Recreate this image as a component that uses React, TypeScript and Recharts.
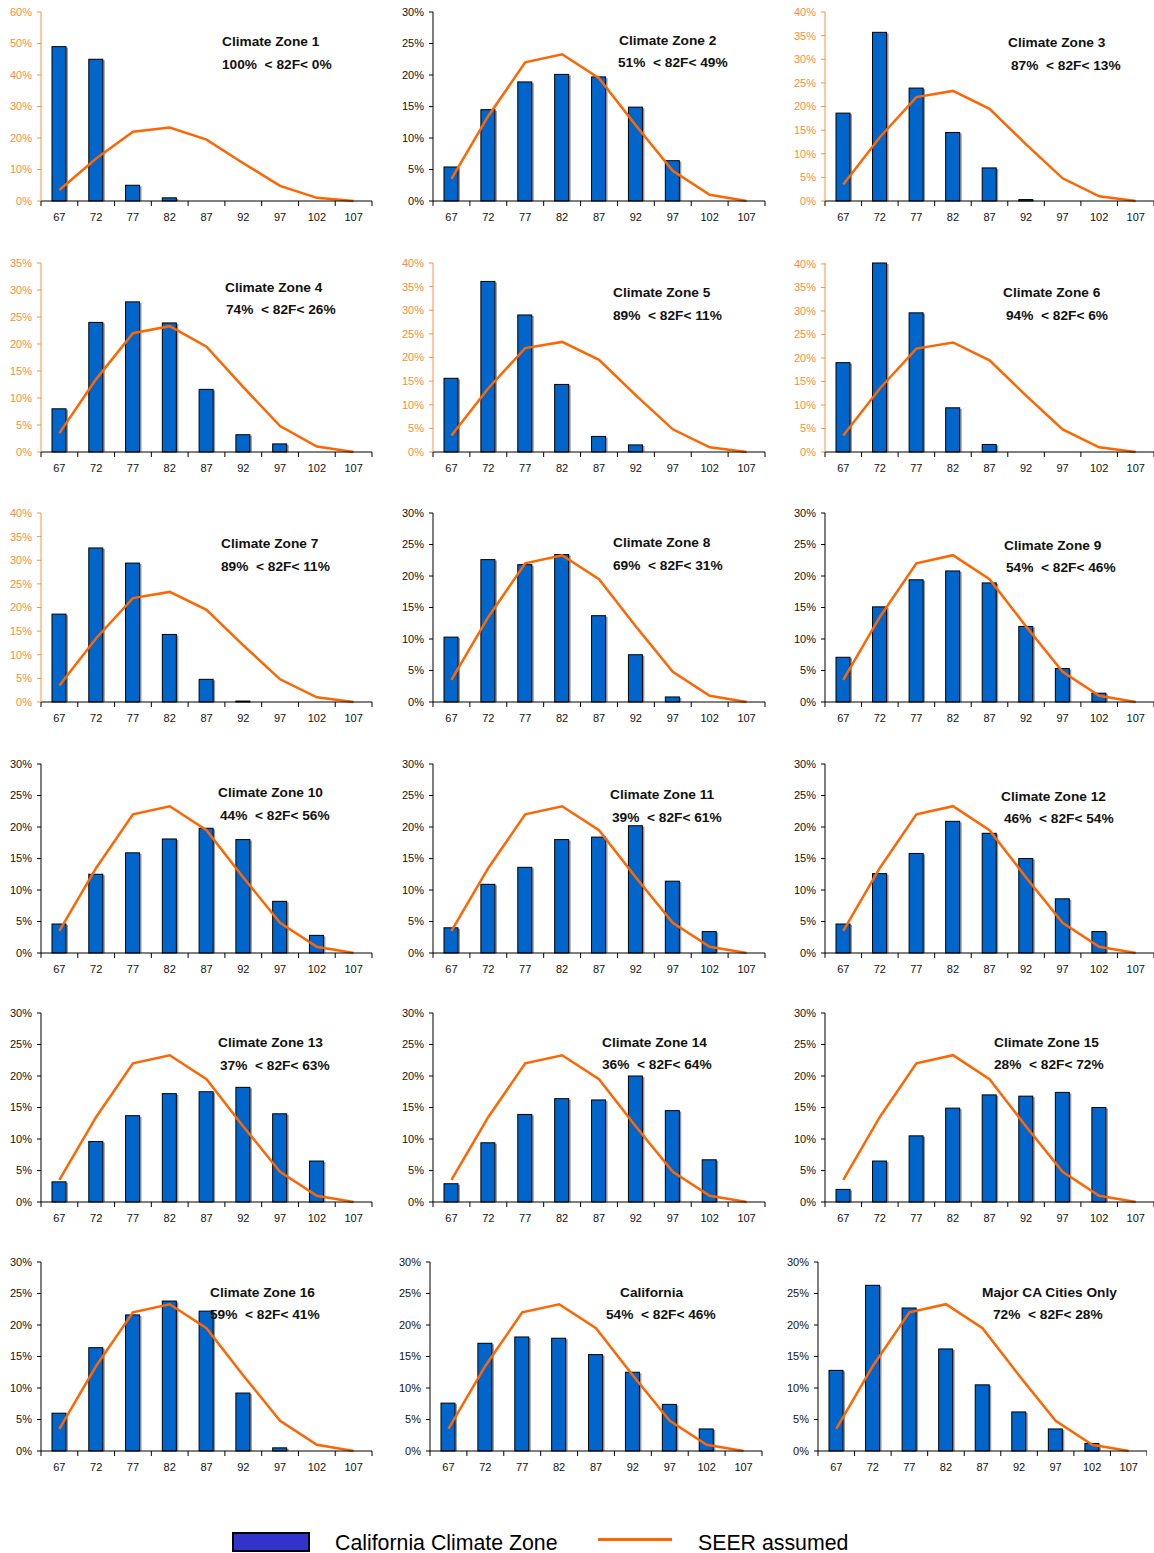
import { ComposedChart, Bar, Line, XAxis, YAxis } from 'recharts';

// bin centres (deg F)
const temps = ['67', '72', '77', '82', '87', '92', '97', '102', '107'];

// share of hours in each bin, percent
const seerAssumed = [3.5, 13.5, 22, 23.3, 19.5, 12, 4.8, 1, 0];

const zone1 = [49, 45, 5, 1, 0, 0, 0, 0, 0];
const zone2 = [5.4, 14.5, 18.9, 20.1, 19.7, 14.9, 6.4, 0, 0];
const zone3 = [18.6, 35.7, 23.9, 14.5, 7.0, 0.3, 0, 0, 0];
const zone4 = [8.0, 24.0, 27.8, 23.9, 11.6, 3.2, 1.5, 0, 0];
const zone5 = [15.6, 36.1, 29.0, 14.3, 3.3, 1.5, 0, 0, 0];
const zone6 = [19.0, 40.2, 29.6, 9.4, 1.6, 0, 0, 0, 0];
const zone7 = [18.6, 32.6, 29.4, 14.3, 4.8, 0.2, 0, 0, 0];
const zone8 = [10.3, 22.6, 21.8, 23.4, 13.7, 7.5, 0.8, 0, 0];
const zone9 = [7.1, 15.1, 19.4, 20.8, 18.9, 12.0, 5.3, 1.4, 0];
const zone10 = [4.6, 12.5, 15.9, 18.1, 19.8, 18.0, 8.2, 2.8, 0];
const zone11 = [4.0, 10.9, 13.6, 18.0, 18.4, 20.2, 11.4, 3.4, 0];
const zone12 = [4.6, 12.6, 15.8, 20.9, 19.0, 15.0, 8.6, 3.4, 0];
const zone13 = [3.2, 9.6, 13.7, 17.2, 17.5, 18.2, 14.0, 6.5, 0];
const zone14 = [2.9, 9.4, 13.9, 16.4, 16.2, 20.0, 14.5, 6.7, 0];
const zone15 = [2.0, 6.5, 10.5, 14.9, 17.0, 16.8, 17.4, 15.0, 0];
const zone16 = [6.0, 16.4, 21.6, 23.8, 22.2, 9.2, 0.5, 0, 0];
const california = [7.6, 17.1, 18.1, 17.9, 15.3, 12.5, 7.4, 3.5, 0];
const majorCities = [12.8, 26.3, 22.7, 16.2, 10.5, 6.2, 3.5, 1.2, 0];

const panelSeries = [
  zone1, zone2, zone3, zone4, zone5, zone6, zone7, zone8, zone9,
  zone10, zone11, zone12, zone13, zone14, zone15, zone16, california, majorCities,
];

const panelTitles = [
  'Climate Zone 1', 'Climate Zone 2', 'Climate Zone 3', 'Climate Zone 4', 'Climate Zone 5',
  'Climate Zone 6', 'Climate Zone 7', 'Climate Zone 8', 'Climate Zone 9', 'Climate Zone 10',
  'Climate Zone 11', 'Climate Zone 12', 'Climate Zone 13', 'Climate Zone 14', 'Climate Zone 15',
  'Climate Zone 16', 'California', 'Major CA Cities Only',
];

const panelSplits = [
  '100%  < 82F< 0%', '51%  < 82F< 49%', '87%  < 82F< 13%', '74%  < 82F< 26%', '89%  < 82F< 11%',
  '94%  < 82F< 6%', '89%  < 82F< 11%', '69%  < 82F< 31%', '54%  < 82F< 46%', '44%  < 82F< 56%',
  '39%  < 82F< 61%', '46%  < 82F< 54%', '37%  < 82F< 63%', '36%  < 82F< 64%', '28%  < 82F< 72%',
  '59%  < 82F< 41%', '54%  < 82F< 46%', '72%  < 82F< 28%',
];

const yMax = [60, 30, 40, 35, 40, 40, 40, 30, 30, 30, 30, 30, 30, 30, 30, 30, 30, 30];
const orangeAxis = [true, false, true, true, true, true, true, false, false, false, false, false, false, false, false, false, false, false];

// layout
const colLeft = [0, 392, 784];
const colWidth = [385, 385, 370];
const colRight = [13, 12, 0];
const rowTop = [0, 251, 501, 752, 1001, 1250];
const panelDx = [0, 0, 0, 0, 0, 0, 0, 0, 0, 0, 0, 0, 0, 0, 0, 0, -3, -7];
// title x, title y, split x, split y (relative to panel)
const labelPos = [
  [222, 42, 222, 65], [227, 41, 226, 63], [224, 43, 227, 66],
  [225, 37, 226, 59], [221, 42, 221, 65], [219, 42, 222, 65],
  [221, 43, 221, 66], [221, 42, 221, 65], [220, 45, 222, 67],
  [218, 41, 220, 64], [218, 43, 220, 66], [217, 45, 220, 67],
  [218, 42, 220, 65], [210, 42, 210, 64], [210, 42, 210, 64],
  [210, 43, 210, 65], [231, 43, 217, 65], [205, 43, 216, 65],
];

const FONT = "Arial, 'Liberation Sans', sans-serif";
const BLUE = '#0066CC';
const ORANGE = '#FF6600';
const AXIS_ORANGE = '#FF9040';
const PLOT_TOP = 12;
const PLOT_H = 189;
const YAXIS_W = 41;

function BarShape(props: any) {
  const { x, y, width, height } = props;
  if (!height || height < 0.3) return null;
  return (
    <g>
      <rect x={x + 2} y={y + 1} width={width} height={Math.max(height - 1, 0)} fill="#9a9a9a" />
      <rect x={x} y={y} width={width} height={height} fill={BLUE} stroke="#000" strokeWidth={1} />
    </g>
  );
}

function Panel({ idx }: { idx: number }) {
  const col = idx % 3;
  const row = Math.floor(idx / 3);
  const width = colWidth[col];
  const right = colRight[col];
  const half = (width - YAXIS_W - right) / temps.length / 2;
  const data = temps.map((t, i) => ({ temp: t, zone: panelSeries[idx][i], seer: seerAssumed[i] }));
  const step = yMax[idx] === 60 ? 10 : 5;
  const ticks: number[] = [];
  for (let v = 0; v <= yMax[idx]; v += step) ticks.push(v);
  const yColor = orangeAxis[idx] ? AXIS_ORANGE : '#000';
  const yText = orangeAxis[idx] ? '#FF8A3D' : '#111';
  const [tx, ty, sx, sy] = labelPos[idx];

  const renderXTick = (p: any) => {
    const { x, y, payload, index } = p;
    return (
      <g>
        <line x1={x - half} x2={x - half} y1={y - 5} y2={y} stroke="#000" />
        {index === temps.length - 1 && <line x1={x + half} x2={x + half} y1={y - 5} y2={y} stroke="#000" />}
        <text x={x} y={y + 7} dy="0.71em" textAnchor="middle" fontSize={11} fill="#111" fontFamily={FONT}>
          {payload.value}
        </text>
      </g>
    );
  };

  const labelStyle = {
    position: 'absolute' as const,
    lineHeight: '16px',
    fontSize: 13.7,
    fontWeight: 'bold' as const,
    fontFamily: FONT,
    color: '#111',
    whiteSpace: 'pre' as const,
  };

  return (
    <div style={{ position: 'absolute', left: colLeft[col] + panelDx[idx], top: rowTop[row], width, height: 231 }}>
      <ComposedChart
        width={width}
        height={PLOT_TOP + PLOT_H + 30}
        data={data}
        margin={{ top: PLOT_TOP, right, left: 0, bottom: 0 }}
      >
        <XAxis
          dataKey="temp"
          interval={0}
          height={30}
          axisLine={{ stroke: '#000' }}
          tickLine={false}
          tickSize={5}
          tickMargin={0}
          tick={renderXTick}
        />
        <YAxis
          width={YAXIS_W}
          domain={[0, yMax[idx]]}
          ticks={ticks}
          interval={0}
          tickFormatter={(v: number) => `${v}%`}
          axisLine={{ stroke: yColor }}
          tickLine={{ stroke: yColor }}
          tickSize={4}
          tickMargin={5}
          tick={{ fontSize: 11, fill: yText, fontFamily: FONT }}
        />
        <Bar dataKey="zone" barSize={14} shape={BarShape} isAnimationActive={false} />
        <Line
          type="linear"
          dataKey="seer"
          stroke={ORANGE}
          strokeWidth={2.5}
          dot={false}
          activeDot={false}
          isAnimationActive={false}
        />
      </ComposedChart>
      <div style={{ ...labelStyle, left: tx, top: ty - 8 }}>{panelTitles[idx]}</div>
      <div style={{ ...labelStyle, left: sx, top: sy - 8 }}>{panelSplits[idx]}</div>
    </div>
  );
}

export default function App() {
  return (
    <div style={{ position: 'absolute', left: 0, top: 0, width: 1154, height: 1553, background: '#fff', fontFamily: FONT }}>
      {panelSeries.map((_, i) => (
        <Panel key={i} idx={i} />
      ))}
      <div style={{ position: 'absolute', left: 232, top: 1532, width: 74, height: 16, background: '#3333CC', border: '2px solid #000' }} />
      <div style={{ position: 'absolute', left: 335, top: 1530, fontSize: 21.3, lineHeight: '26px', color: '#000' }}>
        California Climate Zone
      </div>
      <div style={{ position: 'absolute', left: 598, top: 1538, width: 74, height: 3, background: ORANGE }} />
      <div style={{ position: 'absolute', left: 698, top: 1530, fontSize: 21.3, lineHeight: '26px', color: '#000' }}>
        SEER assumed
      </div>
    </div>
  );
}
